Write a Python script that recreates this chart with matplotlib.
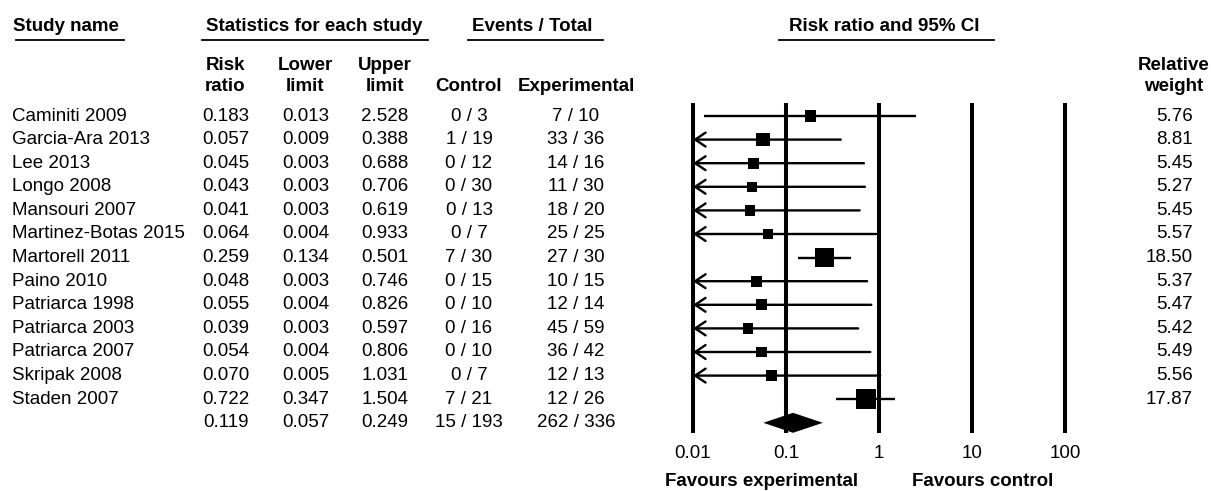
import numpy as np
import matplotlib.pyplot as plt

plt.rcParams['font.family'] = ['Liberation Sans', 'DejaVu Sans']

studies = ["Caminiti 2009", "Garcia-Ara 2013", "Lee 2013", "Longo 2008", "Mansouri 2007",
           "Martinez-Botas 2015", "Martorell 2011", "Paino 2010", "Patriarca 1998",
           "Patriarca 2003", "Patriarca 2007", "Skripak 2008", "Staden 2007"]
risk_ratio = [0.183, 0.057, 0.045, 0.043, 0.041, 0.064, 0.259, 0.048, 0.055, 0.039, 0.054, 0.070, 0.722]
lower = [0.013, 0.009, 0.003, 0.003, 0.003, 0.004, 0.134, 0.003, 0.004, 0.003, 0.004, 0.005, 0.347]
upper = [2.528, 0.388, 0.688, 0.706, 0.619, 0.933, 0.501, 0.746, 0.826, 0.597, 0.806, 1.031, 1.504]
control = ["0 / 3", "1 / 19", "0 / 12", "0 / 30", "0 / 13", "0 / 7", "7 / 30",
           "0 / 15", "0 / 10", "0 / 16", "0 / 10", "0 / 7", "7 / 21"]
experimental = ["7 / 10", "33 / 36", "14 / 16", "11 / 30", "18 / 20", "25 / 25", "27 / 30",
                "10 / 15", "12 / 14", "45 / 59", "36 / 42", "12 / 13", "12 / 26"]
weight = [5.76, 8.81, 5.45, 5.27, 5.45, 5.57, 18.50, 5.37, 5.47, 5.42, 5.49, 5.56, 17.87]
summary_rr, summary_lo, summary_hi = 0.119, 0.057, 0.249
summary_control, summary_exp = "15 / 193", "262 / 336"
scale_ticks = [0.01, 0.1, 1, 10, 100]
scale_labels = ["0.01", "0.1", "1", "10", "100"]

W, H = 1211, 491
FS = 13.5
ROW0, STEP = 116, 23.6
rows = ROW0 + STEP * np.arange(len(studies) + 1)

fig = plt.figure(figsize=(W / 100, H / 100), dpi=100)

# table part, in pixel-like coordinates
tab = fig.add_axes([0, 0, 1, 1])
tab.set_xlim(0, W)
tab.set_ylim(H, 0)
tab.axis('off')

# forest plot part, log scale
fx = fig.add_axes([693 / W, 0, (1065 - 693) / W, 1])
fx.set_xscale('log')
fx.set_xlim(0.01, 100)
fx.set_ylim(H, 0)
fx.axis('off')
fx.patch.set_visible(False)

# ---- headers ----
hdr = dict(fontsize=FS, fontweight='bold')
tab.text(12.6, 26.5, "Study name", ha='left', va='center', **hdr)
tab.text(314, 26.5, "Statistics for each study", ha='center', va='center', **hdr)
tab.text(532.5, 26.5, "Events / Total", ha='center', va='center', **hdr)
tab.text(884, 26.5, "Risk ratio and 95% CI", ha='center', va='center', **hdr)
for x0, x1 in [(16, 124), (202, 428), (468, 603), (779, 994)]:
    tab.plot([x0, x1], [39.5, 39.5], color='black', lw=1.3)

col_x = [225.5, 305.5, 385, 469, 576]
sub = [("Risk", "ratio"), ("Lower", "limit"), ("Upper", "limit"), ("", "Control"), ("", "Experimental")]
for x, (l1, l2) in zip(col_x, sub):
    tab.text(x, 65, l1, ha='center', va='center', **hdr)
    tab.text(x, 86, l2, ha='center', va='center', **hdr)
tab.text(1174, 65, "Relative", ha='center', va='center', **hdr)
tab.text(1174, 86, "weight", ha='center', va='center', **hdr)

# ---- table rows ----
body = dict(fontsize=FS, va='center')
for i, name in enumerate(studies):
    y = rows[i]
    tab.text(12, y, name, ha='left', **body)
    tab.text(col_x[0], y, f"{risk_ratio[i]:.3f}", ha='center', **body)
    tab.text(col_x[1], y, f"{lower[i]:.3f}", ha='center', **body)
    tab.text(col_x[2], y, f"{upper[i]:.3f}", ha='center', **body)
    tab.text(col_x[3], y, control[i], ha='center', **body)
    tab.text(col_x[4], y, experimental[i], ha='center', **body)
    tab.text(1193, y, f"{weight[i]:.2f}", ha='right', **body)

ys = rows[-1]
tab.text(col_x[0], ys, f"{summary_rr:.3f}", ha='center', **body)
tab.text(col_x[1], ys, f"{summary_lo:.3f}", ha='center', **body)
tab.text(col_x[2], ys, f"{summary_hi:.3f}", ha='center', **body)
tab.text(col_x[3], ys, summary_control, ha='center', **body)
tab.text(col_x[4], ys, summary_exp, ha='center', **body)

# ---- forest plot ----
fx.vlines(scale_ticks, 103, 433, color='black', lw=2.9, clip_on=False)
xmin = fx.get_xlim()[0]
for i in range(len(studies)):
    y = rows[i]
    if lower[i] < xmin:
        # CI runs off the scale: open arrow head at the left edge
        fx.annotate('', xy=(xmin, y), xytext=(upper[i], y),
                    arrowprops=dict(arrowstyle='->,head_length=0.75,head_width=0.5',
                                    lw=1.7, color='black', shrinkA=0, shrinkB=0,
                                    mutation_scale=10))
    else:
        fx.hlines(y, lower[i], upper[i], color='black', lw=1.7)

side_pt = 4.6 * np.sqrt(weight) * 0.72
fx.scatter(risk_ratio, rows[:-1], marker='s', s=side_pt ** 2, color='black',
           linewidths=0, zorder=3)

half = 10
fx.fill([summary_lo, summary_rr, summary_hi, summary_rr],
        [ys, ys - half, ys, ys + half], color='black', lw=0, zorder=3)

for t, lab in zip(scale_ticks, scale_labels):
    fx.text(t, 453, lab, ha='center', va='center', fontsize=FS)

tab.text(762, 486.5, "Favours experimental", ha='center', va='baseline', **hdr)
tab.text(982.5, 486.5, "Favours control", ha='center', va='baseline', **hdr)

fig.savefig("out.png", dpi=100)
